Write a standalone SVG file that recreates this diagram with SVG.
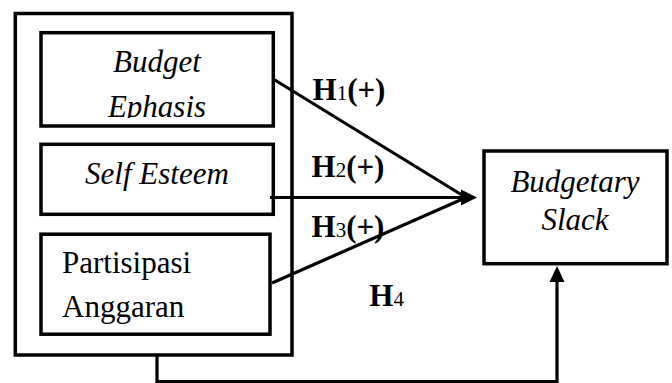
<svg xmlns="http://www.w3.org/2000/svg" width="672" height="383" viewBox="0 0 672 383">
<defs>
<style>
.box{fill:none;stroke:#000;stroke-width:3.5}
.ln{fill:none;stroke:#000;stroke-width:3.2}
.ah{fill:#000;stroke:none}
.t{font-family:'Liberation Serif','DejaVu Serif',serif;font-size:31px;fill:#000}
.i{font-style:italic}
.c{text-anchor:middle}
.h{font-family:'Liberation Serif','DejaVu Serif',serif;font-size:31px;font-weight:bold;fill:#000}
.sub{font-size:21px;font-weight:normal}
</style>
<clipPath id="clipBE"><rect x="43" y="35" width="228" height="83"/></clipPath>
</defs>
<rect width="672" height="383" fill="#fff"/>
<g id="group-outer">
<rect class="box" x="15.3" y="13.5" width="276.7" height="341.5"/>
</g>
<g id="node-budget-ephasis">
<rect class="box" x="41" y="32.7" width="232.3" height="93.3"/>
<g clip-path="url(#clipBE)">
<text class="t i c" x="157" y="72" font-family="Liberation Serif, serif">Budget</text>
<text class="t i c" x="157" y="116.5" font-family="Liberation Serif, serif">Ephasis</text>
</g>
</g>
<g id="node-self-esteem">
<rect class="box" x="41" y="144.3" width="232.3" height="70"/>
<text class="t i c" x="157" y="184" font-family="Liberation Serif, serif">Self Esteem</text>
</g>
<g id="node-partisipasi">
<rect class="box" x="41" y="234.2" width="229" height="100"/>
<text class="t" x="62" y="273" font-family="Liberation Serif, serif">Partisipasi</text>
<text class="t" x="62" y="317" font-family="Liberation Serif, serif">Anggaran</text>
</g>
<g id="node-budgetary-slack">
<rect class="box" x="484" y="151" width="183" height="112.7"/>
<text class="t i c" x="575" y="192" font-family="Liberation Serif, serif">Budgetary</text>
<text class="t i c" x="575" y="230" font-family="Liberation Serif, serif">Slack</text>
</g>
<g id="connectors">
<line class="ln" x1="274" y1="79.5" x2="466" y2="197.5"/>
<line class="ln" x1="270" y1="197.5" x2="466" y2="197.5"/>
<line class="ln" x1="272" y1="283" x2="466" y2="197.5"/>
<polygon class="ah" points="477,197.5 461,189.5 461,205.5"/>
<polyline class="ln" points="157,356 157,381.5 557,381.5 557,278"/>
<polygon class="ah" points="557,266 549.5,282 564.5,282"/>
</g>
<g id="labels">
<text class="h" x="312.5" y="99.5" font-family="Liberation Serif, serif">H<tspan class="sub">1</tspan>(+)</text>
<text class="h" x="311.5" y="176.7" font-family="Liberation Serif, serif">H<tspan class="sub">2</tspan>(+)</text>
<text class="h" x="311.5" y="237.3" font-family="Liberation Serif, serif">H<tspan class="sub">3</tspan>(+)</text>
<text class="h" x="369.3" y="306" font-family="Liberation Serif, serif">H<tspan class="sub">4</tspan></text>
</g>
</svg>
